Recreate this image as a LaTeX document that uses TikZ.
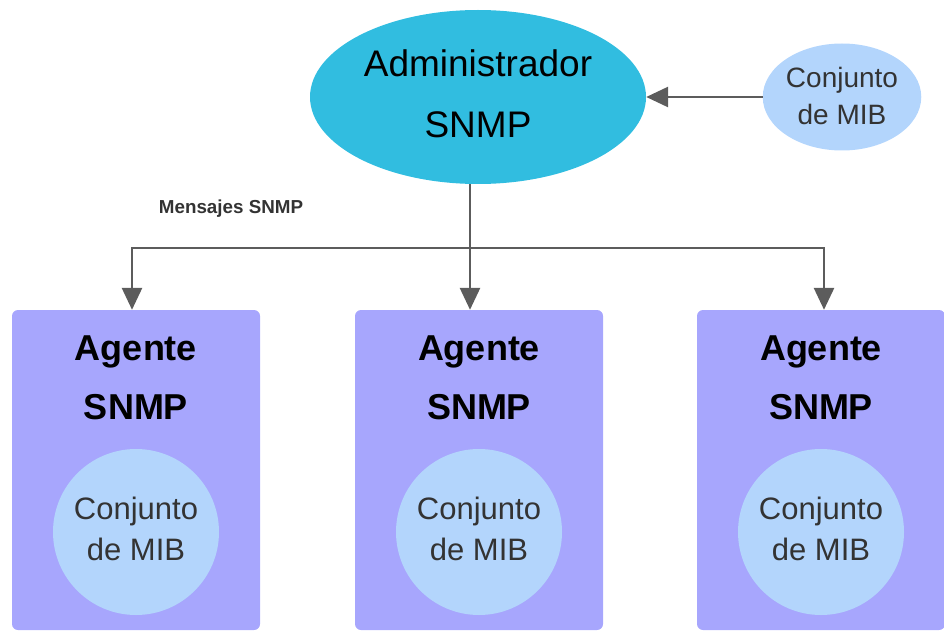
\documentclass[tikz,border=0pt]{standalone}
\usepackage{fontspec}
\setmainfont{Liberation Sans}
\usetikzlibrary{arrows.meta,shapes.geometric}

\definecolor{admcyan}{HTML}{31BDE0}
\definecolor{mibblue}{HTML}{B3D5FC}
\definecolor{agentviolet}{HTML}{A7A6FD}
\definecolor{wiregray}{HTML}{5C5C5C}
\definecolor{textgray}{HTML}{333333}

\tikzset{
  wire/.style={draw=wiregray, line width=2.8pt, line cap=rect},
  conn/.style={wire, line cap=butt, -{Triangle[length=22pt,width=20pt]}, fill=wiregray},
  agentbox/.style={rectangle, rounded corners=6pt, fill=agentviolet,
    minimum width=248pt, minimum height=320pt, inner sep=0pt},
  agenttitle/.style={align=center, font=\bfseries\fontsize{36}{59}\selectfont},
  mibcircle/.style={circle, fill=mibblue, minimum size=166pt, inner sep=0pt,
    text depth=7pt, align=center, text=textgray, font=\fontsize{31}{41}\selectfont},
}

\begin{document}
\begin{tikzpicture}[x=1pt,y=1pt]
  \useasboundingbox (0,0) rectangle (944,-631);

  % manager and its MIB set
  \node[ellipse, fill=admcyan, minimum width=336pt, minimum height=174pt,
        inner sep=0pt, text depth=6pt, align=center, font=\fontsize{37}{61}\selectfont]
        (adm) at (478,-97) {Administrador\\SNMP};
  \node[ellipse, fill=mibblue, minimum width=152pt, minimum height=107pt,
        inner sep=0pt, text depth=3pt, align=center, text=textgray, font=\fontsize{28}{37}\selectfont]
        (mib0) at (842,-97) {Conjunto\\de MIB};

  % agents
  \node[agentbox] (a1) at (136,-470) {};
  \node[agentbox] (a2) at (479,-470) {};
  \node[agentbox] (a3) at (821,-470) {};

  \foreach \i/\x in {1/136, 2/479, 3/821} {
    \node[agenttitle] (t\i) at (\x,-378) {Agente\\SNMP};
    \node[mibcircle] (m\i) at (\x,-532) {Conjunto\\de MIB};
  }

  % label
  \node[text=textgray, font=\bfseries\fontsize{18.8}{22}\selectfont]
       (msg) at (231,-209) {Mensajes SNMP};

  % connectors
  \coordinate (hub) at (470,-248);
  \coordinate (d1) at (132,-248);
  \coordinate (d3) at (824,-248);

  \draw[conn] (mib0.west) -- (adm.east);
  \draw[wire] (d1) -- (d3);
  \draw[conn] (hub |- adm.south) -- (hub |- a2.north);
  \draw[conn] (d1) -- (d1 |- a1.north);
  \draw[conn] (d3) -- (d3 |- a3.north);
\end{tikzpicture}
\end{document}
